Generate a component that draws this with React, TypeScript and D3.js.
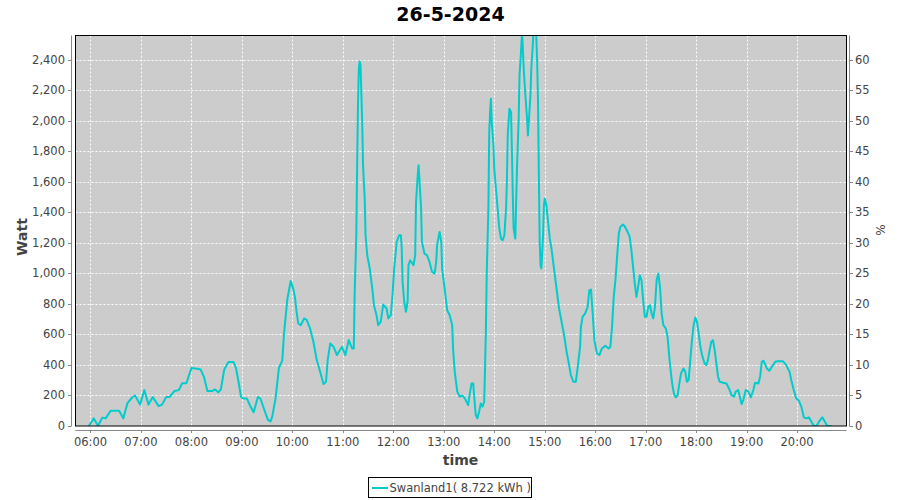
import React from 'react';
import * as d3 from 'd3';

const title = '26-5-2024';
const legendLabel = 'Swanland1( 8.722 kWh )';
const yLabelLeft = 'Watt';
const yLabelRight = '%';
const xLabel = 'time';

const times = [
  '05:58','06:04','06:09','06:14','06:18','06:24','06:34','06:39','06:44','06:50','06:53','06:59',
  '07:04','07:09','07:14','07:21','07:25','07:30','07:34','07:40','07:45','07:49','07:54',
  '08:00','08:07','08:11','08:15','08:19','08:25','08:28','08:32','08:35','08:39','08:44','08:50','08:53','08:56','08:59',
  '09:02','09:06','09:10','09:14','09:19','09:22','09:27','09:31','09:34','09:36','09:40','09:44','09:48','09:50','09:54','09:58',
  '10:01','10:03','10:05','10:07','10:10','10:14','10:17','10:21','10:25','10:29','10:33','10:37','10:40','10:42','10:45','10:49','10:53','10:59',
  '11:03','11:07','11:11','11:13','11:14','11:16','11:17','11:18','11:19','11:20','11:21','11:23','11:24','11:26','11:27','11:29','11:32','11:35','11:37','11:40','11:42','11:45','11:48','11:52','11:54','11:57','11:59',
  '12:01','12:04','12:07','12:09','12:10','12:11','12:13','12:15','12:17','12:18','12:20','12:22','12:24','12:26','12:27','12:29','12:30','12:31','12:33','12:34','12:37','12:40','12:43','12:46','12:49','12:51','12:52','12:55','12:57','12:58',
  '13:01','13:04','13:07','13:10','13:11','13:13','13:16','13:19','13:22','13:25','13:29','13:30','13:33','13:35','13:36','13:38','13:40','13:42','13:44','13:46','13:48','13:49','13:50','13:51','13:53','13:54','13:55','13:56','13:57','13:59',
  '14:00','14:02','14:04','14:06','14:08','14:10','14:12','14:14','14:15','14:16','14:18','14:20','14:21','14:22','14:23','14:25','14:26','14:27','14:29','14:30','14:32','14:33','14:34','14:35','14:37','14:39','14:40','14:41','14:43','14:44','14:46','14:47','14:49','14:51','14:52','14:53','14:54','14:55','14:56','14:58','14:59',
  '15:00','15:02','15:04','15:06','15:08','15:10','15:13','15:15','15:17','15:20','15:23','15:26','15:29','15:31','15:34','15:37','15:39','15:42','15:43','15:45','15:48','15:51','15:53','15:55','15:57','15:59',
  '16:02','16:05','16:08','16:12','16:16','16:18','16:20','16:22','16:24','16:26','16:28','16:30','16:33','16:35','16:38','16:41','16:43','16:45','16:47','16:49','16:51','16:53','16:55','16:57','16:59',
  '17:01','17:03','17:05','17:07','17:09','17:11','17:13','17:15','17:17','17:19','17:21','17:24','17:26','17:28','17:30','17:32','17:34','17:36','17:38','17:40','17:42','17:45','17:47','17:49','17:51','17:53','17:55','17:57','17:59',
  '18:01','18:03','18:05','18:07','18:10','18:12','18:14','18:16','18:18','18:20','18:22','18:24','18:26','18:28','18:32','18:36','18:39','18:42','18:45','18:47','18:50','18:52','18:54','18:56','18:59',
  '19:02','19:05','19:08','19:10','19:14','19:16','19:18','19:20','19:24','19:27','19:30','19:34','19:37','19:43','19:47','19:51','19:53','19:56','19:59',
  '20:02','20:05','20:08','20:11','20:14','20:17','20:20','20:23','20:26','20:30','20:33','20:36','20:41'
];

const watts = [
  0,50,0,55,50,100,100,50,150,190,200,140,
  235,140,190,130,140,190,190,230,235,280,280,
  380,375,370,320,230,230,240,220,240,370,420,420,380,290,190,
  180,180,130,90,190,180,100,40,30,60,180,380,430,600,830,950,
  900,846,748,672,660,705,695,640,552,432,355,275,290,432,541,519,465,519,
  465,563,508,508,857,1250,1708,2100,2341,2389,2363,1992,1708,1490,1250,1119,1032,901,792,726,661,683,796,770,705,726,857,
  1032,1206,1250,1250,1163,945,814,748,814,1054,1086,1070,1054,1119,1468,1643,1708,1621,1425,1206,1130,1119,1076,1010,999,1076,1185,1272,1206,1032,
  901,759,726,661,508,355,225,192,199,181,137,181,279,279,203,72,50,94,148,127,159,377,617,988,1425,1926,2057,2144,1992,1839,
  1686,1555,1425,1294,1228,1217,1250,1425,1599,1904,2079,2057,1796,1512,1294,1228,1468,1686,2014,2297,2472,2580,2472,2341,2166,2014,1904,1992,2166,2341,2515,2700,2700,2384,2123,1643,1206,1054,1032,1250,1446,
  1490,1446,1337,1228,1163,1076,945,857,770,683,596,486,399,334,290,290,377,520,650,716,737,781,890,894,737,563,
  476,465,508,526,508,519,650,846,955,1108,1261,1305,1320,1309,1278,1239,1152,1043,934,846,912,988,955,825,716,
  716,781,792,737,705,781,955,999,912,737,661,639,585,454,345,257,203,188,203,279,345,377,356,290,301,432,563,661,711,
  683,606,519,465,410,399,432,497,552,563,497,410,323,290,284,279,246,203,192,225,236,192,144,170,236,
  225,188,236,284,279,323,421,428,377,362,388,421,425,425,399,356,301,236,181,
  166,127,57,50,57,28,0,0,28,57,28,0,0
];

const hourTicks = ['06:00','07:00','08:00','09:00','10:00','11:00','12:00','13:00','14:00','15:00','16:00','17:00','18:00','19:00','20:00'];
const wattTicks = [0,200,400,600,800,1000,1200,1400,1600,1800,2000,2200,2400];
const pctTicks = [0,5,10,15,20,25,30,35,40,45,50,55,60];

const toMin = (s: string) => {
  const [h, m] = s.split(':').map(Number);
  return h * 60 + m;
};

const W = 900, H = 500;
const L = 75.5, T = 35.5, R = 846.5, B = 426;

export default function App() {
  const x = d3.scaleLinear().domain([342.2, 1258.7]).range([L, R]);
  const y = d3.scaleLinear().domain([0, 2559]).range([B, T]);
  const y2 = d3.scaleLinear().domain([0, 2559 / 40]).range([B, T]);
  const data = times.map((t, i) => ({ t: toMin(t), v: watts[i] }));
  const line = d3.line<{ t: number; v: number }>().x(d => x(d.t)).y(d => y(d.v));
  const font = '"DejaVu Sans", sans-serif';
  const axisColor = '#888888';
  const tickText = '#444444';

  return (
    <svg width={W} height={H} style={{ position: 'absolute', left: 0, top: 0, background: '#ffffff' }} fontFamily={font}>
      <defs>
        <clipPath id="plotclip">
          <rect x={L} y={T} width={R - L} height={B - T} />
        </clipPath>
      </defs>
      <rect x={0} y={0} width={W} height={H} fill="#ffffff" />
      <text x={450.5} y={21} textAnchor="middle" fontSize={19} fontWeight="bold" fill="#000">{title}</text>
      <rect x={L} y={T} width={R - L} height={B - T} fill="#cccccc" />
      {/* grid */}
      <g stroke="#ffffff" strokeWidth={1} strokeDasharray="2,2">
        {wattTicks.map(v => (
          <line key={'h' + v} x1={L} x2={R} y1={Math.round(y(v)) + 0.5} y2={Math.round(y(v)) + 0.5} />
        ))}
        {hourTicks.map(h => (
          <line key={'v' + h} x1={Math.round(x(toMin(h))) + 0.5} x2={Math.round(x(toMin(h))) + 0.5} y1={T} y2={B} />
        ))}
      </g>
      <path d={line(data) || ''} fill="none" stroke="#00cccc" strokeWidth={2} clipPath="url(#plotclip)" strokeLinejoin="round" />
      <rect x={L} y={T} width={R - L} height={B - T} fill="none" stroke="#000" strokeWidth={1} />
      {/* left axis */}
      <line x1={71.5} x2={71.5} y1={T} y2={B} stroke={axisColor} />
      {wattTicks.map(v => (
        <g key={'lt' + v}>
          <line x1={68} x2={71.5} y1={Math.round(y(v)) + 0.5} y2={Math.round(y(v)) + 0.5} stroke={axisColor} />
          <text x={65} y={y(v) + 4} textAnchor="end" fontSize={11.5} fill={tickText}>{d3.format(',')(v)}</text>
        </g>
      ))}
      <text transform={`translate(27,237) rotate(-90)`} textAnchor="middle" fontSize={14} fontWeight="bold" fill="#444">{yLabelLeft}</text>
      {/* right axis */}
      <line x1={849.5} x2={849.5} y1={T} y2={B} stroke={axisColor} />
      {pctTicks.map(v => (
        <g key={'rt' + v}>
          <line x1={849.5} x2={853} y1={Math.round(y2(v)) + 0.5} y2={Math.round(y2(v)) + 0.5} stroke={axisColor} />
          <text x={855} y={y2(v) + 4} textAnchor="start" fontSize={11.5} fill={tickText}>{v}</text>
        </g>
      ))}
      <text transform={`translate(885,230) rotate(-90)`} textAnchor="middle" fontSize={12} fill="#444">{yLabelRight}</text>
      {/* bottom axis */}
      <line x1={L} x2={R} y1={430.5} y2={430.5} stroke={axisColor} />
      {hourTicks.map(h => (
        <g key={'bt' + h}>
          <line x1={Math.round(x(toMin(h))) + 0.5} x2={Math.round(x(toMin(h))) + 0.5} y1={430.5} y2={433} stroke={axisColor} />
          <text x={x(toMin(h))} y={446} textAnchor="middle" fontSize={11.5} fill={tickText}>{h}</text>
        </g>
      ))}
      <text x={460.5} y={465} textAnchor="middle" fontSize={14} fontWeight="bold" fill="#444">{xLabel}</text>
      {/* legend */}
      <rect x={368.5} y={477.5} width={163} height={20} fill="#fff" stroke="#000" strokeWidth={1} />
      <line x1={372} x2={388} y1={488} y2={488} stroke="#00cccc" strokeWidth={2} />
      <text x={389.5} y={492} fontSize={11.5} fill="#444">{legendLabel}</text>
    </svg>
  );
}
